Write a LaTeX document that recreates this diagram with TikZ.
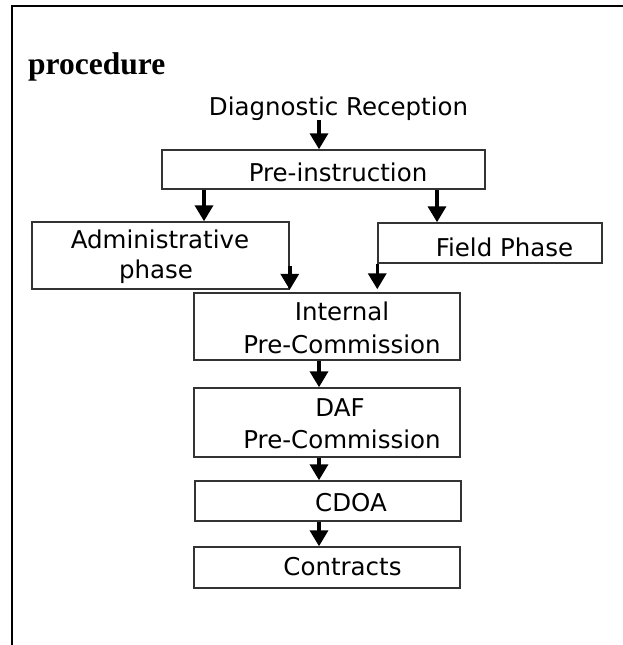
\documentclass[tikz,border=0pt]{standalone}
\usepackage{fontspec}
\setmainfont{Liberation Serif}
\newfontfamily\boxfont{DejaVu Sans}
\usetikzlibrary{arrows.meta}

\begin{document}
\begin{tikzpicture}[x=1pt,y=-1pt,
  box/.style={draw=black!80,line width=1.5pt,rectangle,inner sep=0pt},
  txt/.style={font=\boxfont\fontsize{24.5}{30}\selectfont,anchor=base,inner sep=0pt},
  arr/.style={line width=3.5pt,-{Triangle[width=18pt,length=16pt]}}]
\useasboundingbox (0,0) rectangle (623,645);
\draw [line width=2pt] (12,645) -- (12,6) -- (623,6);

\node [font=\bfseries\fontsize{31.5}{36}\selectfont,anchor=base west,inner sep=0pt] (title) at (28,74) {procedure};
\node [txt] (diag) at (338.5,115) {Diagnostic Reception};

\node [box,minimum width=323pt,minimum height=39pt] (pre) at (323.5,169.5) {};
\node [box,minimum width=257pt,minimum height=67pt] (admin) at (160.5,255.5) {};
\node [box,minimum width=224pt,minimum height=40pt] (field) at (490,243) {};
\node [box,minimum width=266pt,minimum height=67pt] (internal) at (327,326.5) {};
\node [box,minimum width=266pt,minimum height=69pt] (daf) at (327,422.5) {};
\node [box,minimum width=266pt,minimum height=40pt] (cdoa) at (328,501) {};
\node [box,minimum width=266pt,minimum height=41pt] (contracts) at (327,567.5) {};

\node [txt] (pretext) at (338,181) {Pre-instruction};
\node [txt] (admintext) at (160,248) {Administrative};
\node [txt] (admintextb) at (156,278) {phase};
\node [txt] (fieldtext) at (504.5,256) {Field Phase};
\node [txt] (internaltext) at (342,320) {Internal};
\node [txt] (internaltextb) at (342,353) {Pre-Commission};
\node [txt] (daftext) at (340,416) {DAF};
\node [txt] (daftextb) at (342,448) {Pre-Commission};
\node [txt] (cdoatext) at (351,511) {CDOA};
\node [txt] (contractstext) at (342.5,575) {Contracts};

% arrows
\draw [arr] ([xshift=-4.5pt]pre.north |- diag.south) -- ([xshift=-4.5pt]pre.north);
\draw [arr] ([xshift=-119.5pt]pre.south) -- ([xshift=-119.5pt]pre.south |- admin.north);
\draw [arr] ([xshift=113.5pt]pre.south) -- ([xshift=113.5pt]pre.south |- field.north);
\draw [arr] ([yshift=24pt]admin.south east) -- (admin.south east);
\draw [arr] (field.south west) -- ([yshift=3pt]field.south west |- internal.north);
\draw [arr] ([xshift=-8pt]internal.south) -- ([xshift=-8pt]internal.south |- daf.north);
\draw [arr] ([xshift=-8pt]daf.south) -- ([xshift=-8pt]daf.south |- cdoa.north);
\draw [arr] ([xshift=-9pt]cdoa.south) -- ([xshift=-9pt]cdoa.south |- contracts.north);
\end{tikzpicture}
\end{document}
